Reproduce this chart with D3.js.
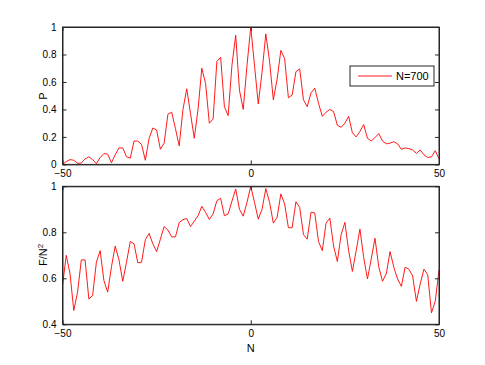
<!DOCTYPE html>
<html>
<head>
<meta charset="utf-8">
<script src="https://cdn.jsdelivr.net/npm/d3@7"></script>
<style>
	body { margin: 0; background: #fff; }
	svg text { font-family: "Liberation Sans", Arial, sans-serif; }
</style>
</head>
<body>
<svg id="chart" width="485" height="365"></svg>
<script>
var nValues = d3.range(-50, 51)

// P (N = -50 .. 50)
var pValues = [
	0.00, 0.02, 0.035, 0.03, 0.008, 0.01, 0.04, 0.055, 0.035, 0.005,
	0.05, 0.078, 0.075, 0.012, 0.07, 0.12, 0.12, 0.055, 0.045, 0.17,
	0.17, 0.145, 0.03, 0.19, 0.265, 0.25, 0.11, 0.155, 0.365, 0.38,
	0.26, 0.135, 0.40, 0.55, 0.37, 0.19, 0.40, 0.70, 0.59, 0.30,
	0.33, 0.75, 0.78, 0.42, 0.355, 0.72, 0.94, 0.54, 0.40, 0.72,
	1.00,
	0.72, 0.44, 0.67, 0.95, 0.75, 0.47, 0.62, 0.83, 0.77, 0.485,
	0.505, 0.675, 0.695, 0.47, 0.42, 0.52, 0.555, 0.445, 0.35, 0.38,
	0.40, 0.385, 0.285, 0.27, 0.30, 0.35, 0.23, 0.20, 0.24, 0.29,
	0.19, 0.17, 0.195, 0.225, 0.17, 0.15, 0.155, 0.165, 0.15, 0.11,
	0.12, 0.115, 0.105, 0.08, 0.105, 0.07, 0.05, 0.055, 0.10, 0.04
]

// F/N^2
var fValues = [
	0.568, 0.70, 0.62, 0.46, 0.54, 0.68, 0.68, 0.51, 0.525, 0.67,
	0.72, 0.59, 0.54, 0.65, 0.74, 0.68, 0.587, 0.67, 0.76, 0.75,
	0.667, 0.67, 0.768, 0.795, 0.75, 0.716, 0.77, 0.825, 0.81, 0.78,
	0.78, 0.843, 0.855, 0.86, 0.825, 0.848, 0.872, 0.913, 0.887, 0.856,
	0.88, 0.937, 0.948, 0.872, 0.88, 0.935, 0.988, 0.90, 0.87, 0.93,
	1.00,
	0.93, 0.857, 0.90, 0.99, 0.93, 0.84, 0.865, 0.967, 0.923, 0.82,
	0.82, 0.933, 0.908, 0.79, 0.77, 0.887, 0.884, 0.76, 0.72, 0.84,
	0.862, 0.74, 0.673, 0.79, 0.843, 0.72, 0.63, 0.72, 0.814, 0.69,
	0.597, 0.684, 0.774, 0.65, 0.587, 0.62, 0.716, 0.648, 0.597, 0.565,
	0.648, 0.64, 0.61, 0.50, 0.575, 0.64, 0.615, 0.45, 0.50, 0.636
]

var xTicks = [-50, 0, 50]
var pTicks = [0, 0.2, 0.4, 0.6, 0.8, 1]
var fTicks = [0.4, 0.6, 0.8, 1]
var legendLabel = "N=700"

var svg = d3.select("#chart")
var left = 62.5, right = 439

var x = d3.scaleLinear().domain([-50, 50]).range([left, right])

function drawPanel(top, bottom, yDomain, yTicks, values){
	var y = d3.scaleLinear().domain(yDomain).range([bottom, top])
	var g = svg.append("g")

	var line = d3.line()
		.x((d, i) => x(nValues[i]))
		.y(d => y(d))

	g.append("path")
		.datum(values)
		.attr("fill", "none")
		.attr("stroke", "#ff0000")
		.attr("stroke-width", 0.9)
		.attr("stroke-linejoin", "round")
		.attr("d", line)

	// MATLAB style box with inward ticks on all sides
	g.append("g")
		.attr("transform", "translate(0," + bottom + ")")
		.call(d3.axisBottom(x).tickValues(xTicks).tickSizeInner(-4).tickSizeOuter(0).tickPadding(6))
	g.append("g")
		.attr("transform", "translate(0," + top + ")")
		.call(d3.axisTop(x).tickValues(xTicks).tickSizeInner(-4).tickSizeOuter(0).tickFormat(""))
	g.append("g")
		.attr("transform", "translate(" + left + ",0)")
		.call(d3.axisLeft(y).tickValues(yTicks).tickSizeInner(-4).tickSizeOuter(0).tickPadding(6).tickFormat(d3.format("")))
	g.append("g")
		.attr("transform", "translate(" + right + ",0)")
		.call(d3.axisRight(y).tickValues(yTicks).tickSizeInner(-4).tickSizeOuter(0).tickFormat(""))

	g.selectAll(".domain").attr("stroke", "#262626")
	g.selectAll(".tick line").attr("stroke", "#262626")
	g.selectAll(".tick text")
		.attr("fill", "#000")
		.style("font-size", "10px")
		.style("font-family", "Liberation Sans, Arial, sans-serif")

	g.append("rect")
		.attr("x", left).attr("y", top)
		.attr("width", right - left).attr("height", bottom - top)
		.attr("fill", "none")
		.attr("stroke", "#262626")
		.attr("stroke-width", 1)
	return g
}

drawPanel(27, 164.4, [0, 1], pTicks, pValues)
drawPanel(186.3, 324.3, [0.4, 1], fTicks, fValues)

// axis labels
svg.append("text")
	.attr("transform", "translate(47,96) rotate(-90)")
	.attr("text-anchor", "middle")
	.style("font-size", "11px")
	.text("P")

var fl = svg.append("text")
	.attr("transform", "translate(47,255) rotate(-90)")
	.attr("text-anchor", "middle")
	.style("font-size", "11px")
fl.append("tspan").text("F/N")
fl.append("tspan").attr("dy", -4).style("font-size", "8px").text("2")

svg.append("text")
	.attr("x", x(0)).attr("y", 352)
	.attr("text-anchor", "middle")
	.style("font-size", "11px")
	.text("N")

// legend
var lg = svg.append("g").attr("transform", "translate(350,66)")
lg.append("rect")
	.attr("width", 84).attr("height", 20)
	.attr("fill", "#fff").attr("stroke", "#262626")
lg.append("line")
	.attr("x1", 8).attr("x2", 42).attr("y1", 10).attr("y2", 10)
	.attr("stroke", "#ff0000").attr("stroke-width", 0.9)
lg.append("text")
	.attr("x", 46).attr("y", 14)
	.style("font-size", "11px")
	.text(legendLabel)
</script>
</body>
</html>
